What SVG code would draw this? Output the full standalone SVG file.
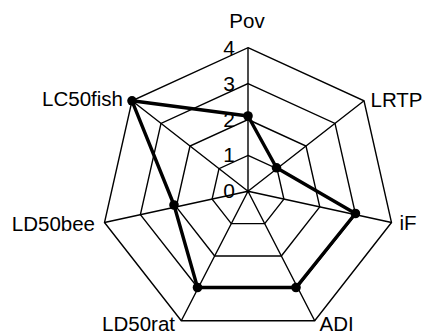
<svg xmlns="http://www.w3.org/2000/svg" width="425" height="334" viewBox="0 0 425 334">
<style>
.grid{fill:none;stroke:#000;stroke-width:1.4;stroke-linejoin:miter}
.data{fill:none;stroke:#000;stroke-width:3.4;stroke-linejoin:round}
.lbl{font-family:"Liberation Sans",Arial,sans-serif;font-size:20.5px;fill:#000}
.tick{font-family:"Liberation Sans",Arial,sans-serif;font-size:21px;fill:#000;text-anchor:end}
</style>
<rect width="425" height="334" fill="#fff"/>
<g id="grid">
<polygon class="grid" points="248,47.7 364,100.8 391.5,222.5 314.7,320.7 181.3,320.7 104.5,222.5 132,100.8"/>
<polygon class="grid" points="248,83.6 335,123.4 355.6,214.7 297,288 198,288 140.4,214.7 161,123.4"/>
<polygon class="grid" points="248,119.5 306,146.05 319.75,206.9 281.35,256 214.65,256 176.25,206.9 190,146.05"/>
<polygon class="grid" points="248,155.4 277,168.7 283.9,199.1 264.7,223.65 231.3,223.65 212.1,199.1 219,168.7"/>
<path class="grid" d="M248,191.3L248,47.7M248,191.3L364,100.8M248,191.3L391.5,222.5M248,191.3L314.7,320.7M248,191.3L181.3,320.7M248,191.3L104.5,222.5M248,191.3L132,100.8"/>
</g>
<g id="ticks">
<text class="tick" x="235" y="55">4</text>
<text class="tick" x="235" y="90.75">3</text>
<text class="tick" x="235" y="126.5">2</text>
<text class="tick" x="235" y="162.25">1</text>
<text class="tick" x="235" y="198">0</text>
</g>
<g id="series">
<polygon class="data" points="248,116 276.5,167.8 355.4,213.5 296,287.5 197.5,287.5 174,205 132,100.8"/>
<g fill="#000">
<circle cx="248" cy="116" r="4.8"/>
<circle cx="276.5" cy="167.8" r="4.8"/>
<circle cx="355.4" cy="213.5" r="4.8"/>
<circle cx="296" cy="287.5" r="4.8"/>
<circle cx="197.5" cy="287.5" r="4.8"/>
<circle cx="174" cy="205" r="4.8"/>
<circle cx="132" cy="100.8" r="4.8"/>
</g>
</g>
<g id="labels">
<text class="lbl" x="247" y="28" text-anchor="middle">Pov</text>
<text class="lbl" x="370.5" y="106.7">LRTP</text>
<text class="lbl" x="399.5" y="230">iF</text>
<text class="lbl" x="319.5" y="330.5">ADI</text>
<text class="lbl" x="175" y="330.5" text-anchor="end">LD50rat</text>
<text class="lbl" x="95" y="230.5" text-anchor="end">LD50bee</text>
<text class="lbl" x="123" y="106" text-anchor="end">LC50fish</text>
</g>
</svg>
